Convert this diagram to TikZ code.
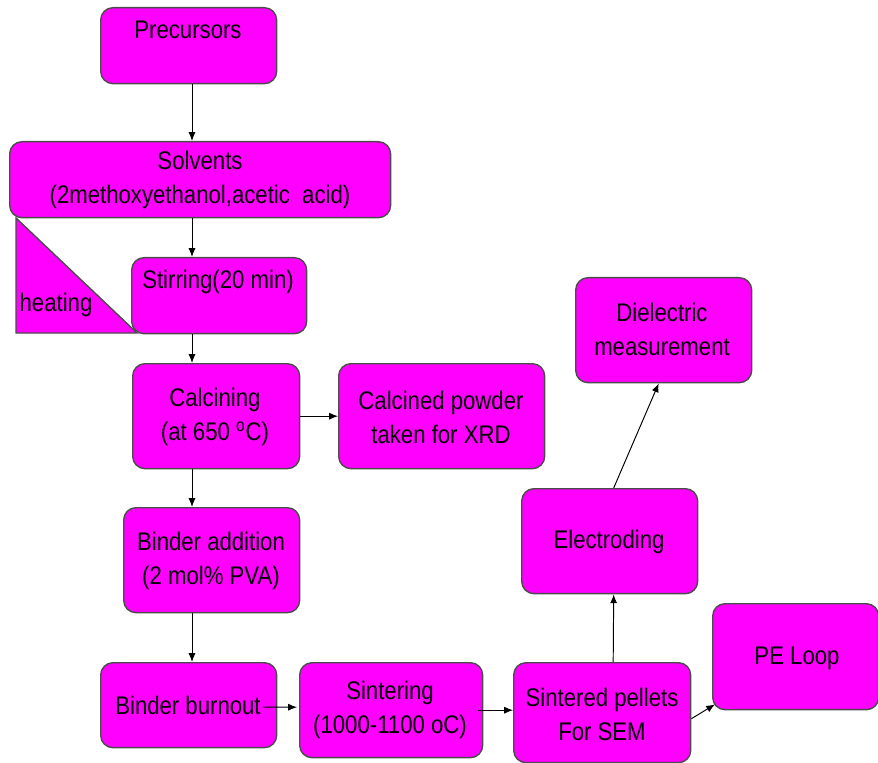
\documentclass[tikz,border=0pt]{standalone}
\usepackage{fontspec}
\setmainfont{Liberation Sans}[FakeStretch=0.87]
\usepackage{xcolor}
\usetikzlibrary{calc,arrows.meta}
\definecolor{mag}{HTML}{FF00FF}

\tikzset{
    stage/.style={draw=black!70, line width=0.8pt, fill=mag, rounded corners=7pt, inner sep=0pt, anchor=north west},
    txt/.style={align=center, font=\fontsize{14.5}{19.3}\selectfont},
    flow/.style={-{Latex[length=5pt,width=4pt]}, line width=0.55pt}
}

\begin{document}
\begin{tikzpicture}[x=0.02cm, y=-0.02cm]
    \useasboundingbox (0,0) rectangle (878,763);
    \coordinate (axis) at (192,0);

    \node[stage, minimum width=3.52cm, minimum height=1.52cm] (pre) at (100,7) {};
    \node[stage, minimum width=7.62cm, minimum height=1.52cm] (sol) at (9,141) {};
    \filldraw[fill=mag, draw=black!70, line width=0.8pt] (16,218) -- (16,333) -- (137,333) -- cycle;
    \node[stage, minimum width=3.50cm, minimum height=1.52cm] (stir) at (131,257) {};
    \node[stage, minimum width=3.34cm, minimum height=2.10cm] (cal) at (132,363) {};
    \node[stage, minimum width=4.12cm, minimum height=2.10cm] (xrd) at (338,363) {};
    \node[stage, minimum width=3.52cm, minimum height=2.10cm] (bind) at (123,507) {};
    \node[stage, minimum width=3.52cm, minimum height=1.70cm] (burn) at (100,662) {};
    \node[stage, minimum width=3.66cm, minimum height=1.90cm] (sint) at (299,662) {};
    \node[stage, minimum width=3.54cm, minimum height=2.00cm] (pel) at (513,662) {};
    \node[stage, minimum width=3.32cm, minimum height=2.12cm] (pe) at (712,603) {};
    \node[stage, minimum width=3.52cm, minimum height=2.10cm] (elec) at (521,488) {};
    \node[stage, minimum width=3.52cm, minimum height=2.10cm] (diel) at (575,277) {};

    \node[txt] (pret) at (188,30) {Precursors};
    \node[txt] (solt) at (200,180) {Solvents\\(2methoxyethanol,acetic\ \ acid)};
    \node[txt] (heat) at (56,305) {heating};
    \node[txt] (stirt) at (218,282) {Stirring(20 min)};
    \node[txt] (calt) at (215,417) {Calcining\\(at 650 \textsuperscript{o}C)};
    \node[txt] (xrdt) at (441,417) {Calcined powder\\taken for XRD};
    \node[txt] (bindt) at (211,561) {Binder addition\\(2 mol\% PVA)};
    \node[txt] (burnt) at (188,705) {Binder burnout};
    \node[txt] (sintt) at (390,710) {Sintering\\(1000-1100 oC)};
    \node[txt] (pelt) at (602,714) {Sintered pellets\\For SEM};
    \node[txt] (pet) at (797,658) {PE Loop};
    \node[txt] (elect) at (609,542) {Electroding};
    \node[txt] (dielt) at (662,329) {Dielectric\\measurement};

    \draw[flow] (pre.south -| axis) -- (sol.north -| axis);
    \draw[flow] (sol.south -| axis) -- (stir.north -| axis);
    \draw[flow] (stir.south -| axis) -- (cal.north -| axis);
    \draw[flow] (cal.east) -- (xrd.west);
    \draw[flow] (cal.south -| axis) -- (bind.north -| axis);
    \draw[flow] (bind.south -| axis) -- (burn.north -| axis);
    \draw[flow] ($(burn.east)+(-14,2)$) -- ($(sint.west)+(-2,-3)$);
    \draw[flow] ($(sint.east)+(-5,0)$) -- (pel.west |- sint.east);
    \draw[flow] ($(pel.north)+(11,0)$) -- ($(elec.south)+(4,0)$);
    \draw[flow] ($(elec.north)+(4,0)$) -- ($(diel.south)+(-5,0)$);
    \draw[flow] ($(pel.east)+(0,6)$) -- ($(pe.south west)+(3,-6)$);
\end{tikzpicture}
\end{document}
